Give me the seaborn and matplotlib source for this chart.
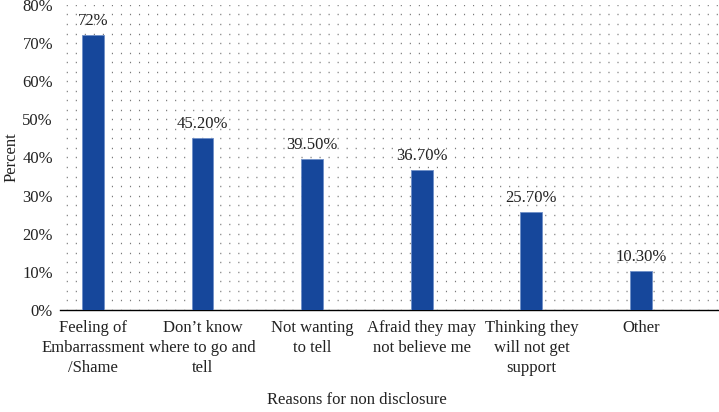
import numpy as np
import pandas as pd
import seaborn as sns
import matplotlib.pyplot as plt
from matplotlib.ticker import MultipleLocator, FuncFormatter

# Data
reasons = ['Feeling of\nEmbarrassment\n/Shame',
           'Don\u2019t know\nwhere to go and\ntell',
           'Not wanting\nto tell',
           'Afraid they may\nnot believe me',
           'Thinking they\nwill not get\nsupport',
           'Other']
percent = [72, 45.2, 39.5, 36.7, 25.7, 10.3]
bar_labels = ['72%', '45.20%', '39.50%', '36.70%', '25.70%', '10.30%']

df = pd.DataFrame({'reason': reasons, 'percent': percent})

sns.set_style('white')
plt.rcParams['font.family'] = ['Liberation Serif', 'DejaVu Serif']
plt.rcParams['lines.scale_dashes'] = False

fs = 12

fig = plt.figure(figsize=(7.19, 4.12), dpi=100)
ax = fig.add_axes([0.0834, 0.2476, 0.915, 0.7404])

sns.barplot(data=df, x='reason', y='percent', color='#16479b', width=0.2,
            saturation=1, edgecolor='#6f8fc8', linewidth=0.6, ax=ax, zorder=3)

for i, (v, lab) in enumerate(zip(percent, bar_labels)):
    ax.text(i, v + 1.6, lab, ha='center', va='bottom', fontsize=fs, color='#222222')

ax.set_xlim(-0.3, 5.7)
ax.set_ylim(0, 80)
ax.yaxis.set_major_locator(MultipleLocator(10))
ax.yaxis.set_minor_locator(MultipleLocator(2.5))
ax.yaxis.set_major_formatter(FuncFormatter(lambda v, p: f'{v:.0f}%'))
ax.grid(True, which='both', axis='y', color='#7a7a7a', linewidth=1.0,
        linestyle=(2, (0.8, 5.7)), zorder=0)
ax.set_axisbelow(True)

for s in ['top', 'right', 'left']:
    ax.spines[s].set_visible(False)
ax.spines['bottom'].set_color('black')
ax.spines['bottom'].set_linewidth(1.0)

ax.tick_params(axis='both', which='both', length=0, labelsize=fs, colors='#222222')
ax.tick_params(axis='y', pad=5)
ax.tick_params(axis='x', pad=7)
for t in ax.get_xticklabels():
    t.set_linespacing(1.35)
    t.set_va('top')

ax.set_xlabel('')
ax.set_ylabel('Percent', fontsize=fs, color='#222222')
ax.yaxis.set_label_coords(-0.062, 0.5)
fig.text(0.496, 0.01, 'Reasons for non disclosure', ha='center', va='bottom',
         fontsize=fs, color='#222222')

fig.savefig('out.png', dpi=100)
